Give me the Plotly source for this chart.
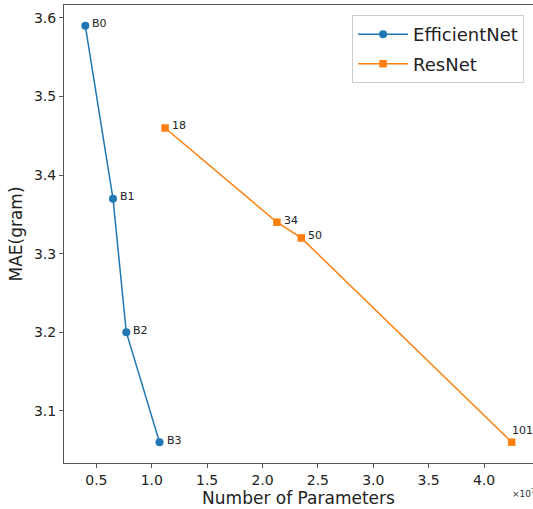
import plotly.graph_objects as go

eff_names = ["B0", "B1", "B2", "B3"]
eff_params = [4.0e6, 6.5e6, 7.7e6, 10.7e6]
eff_mae = [3.59, 3.37, 3.20, 3.06]

res_names = ["18", "34", "50", "101"]
res_params = [11.2e6, 21.3e6, 23.5e6, 42.5e6]
res_mae = [3.46, 3.34, 3.32, 3.06]

x_ticks = [0.5e7, 1.0e7, 1.5e7, 2.0e7, 2.5e7, 3.0e7, 3.5e7, 4.0e7]
x_tick_text = ["0.5", "1.0", "1.5", "2.0", "2.5", "3.0", "3.5", "4.0"]
y_ticks = [3.1, 3.2, 3.3, 3.4, 3.5, 3.6]

BLUE = "#1f77b4"
ORANGE = "#ff7f0e"
FONT = "DejaVu Sans"

fig = go.Figure()
fig.add_trace(go.Scatter(x=eff_params, y=eff_mae, mode="lines+markers", name="EfficientNet",
                         legendgroup="eff",
                         line=dict(color=BLUE, width=1.5),
                         marker=dict(symbol="circle", size=8, color=BLUE)))
fig.add_trace(go.Scatter(x=res_params, y=res_mae, mode="lines+markers", name="ResNet",
                         legendgroup="res",
                         line=dict(color=ORANGE, width=1.5),
                         marker=dict(symbol="square", size=7.5, color=ORANGE)))

annotations = []
for names, xs, ys in [(eff_names, eff_params, eff_mae), (res_names, res_params, res_mae)]:
    for n, x, y in zip(names, xs, ys):
        if n == "101":
            xs_, ys_ = -2, 12
        else:
            xs_, ys_ = 5, 2
        annotations.append(dict(x=x, y=y, xref="x", yref="y", text=n, showarrow=False,
                                xanchor="left", yanchor="middle", xshift=xs_, yshift=ys_,
                                font=dict(family=FONT, size=11, color="#222")))
annotations.append(dict(x=1.0, y=0, xref="paper", yref="paper", text="×10<sup>7</sup>",
                        showarrow=False, xanchor="right", yanchor="top", xshift=4, yshift=-22,
                        font=dict(family=FONT, size=9, color="#333")))
fig.update_layout(annotations=annotations)

xmin, xmax = min(eff_params + res_params), max(eff_params + res_params)
ymin, ymax = min(eff_mae + res_mae), max(eff_mae + res_mae)
xpad = (xmax - xmin) * 0.05
ypad = (ymax - ymin) * 0.05

axis_common = dict(showgrid=False, zeroline=False, showline=True, linecolor="#555", linewidth=1,
                   mirror=True, ticks="outside", ticklen=4, tickcolor="#555", automargin=False,
                   tickfont=dict(family=FONT, size=14, color="#222"))
fig.update_xaxes(range=[xmin - xpad, xmax + xpad], tickvals=x_ticks, ticktext=x_tick_text,
                 title=dict(text="Number of Parameters", font=dict(family=FONT, size=17, color="#222"),
                            standoff=2), **axis_common)
fig.update_yaxes(range=[ymin - ypad, ymax + ypad], tickvals=y_ticks, ticktext=[f"{v:.1f}" for v in y_ticks],
                 title=dict(text="MAE(gram)", font=dict(family=FONT, size=17, color="#222"),
                            standoff=6), **axis_common)

fig.update_layout(
    width=533, height=509,
    margin=dict(l=64, r=0, t=5, b=46, autoexpand=False),
    paper_bgcolor="white", plot_bgcolor="white",
    font=dict(family=FONT),
    showlegend=True,
    legend=dict(x=0.981, y=0.978, xanchor="right", yanchor="top",
                bgcolor="white", bordercolor="#ccc", borderwidth=1, itemwidth=50,
                font=dict(family=FONT, size=18, color="#222"), tracegroupgap=3),
)

fig.write_html("out.html", config={"displayModeBar": False},
               post_script="document.body.style.margin='0';document.body.style.overflow='hidden';")
